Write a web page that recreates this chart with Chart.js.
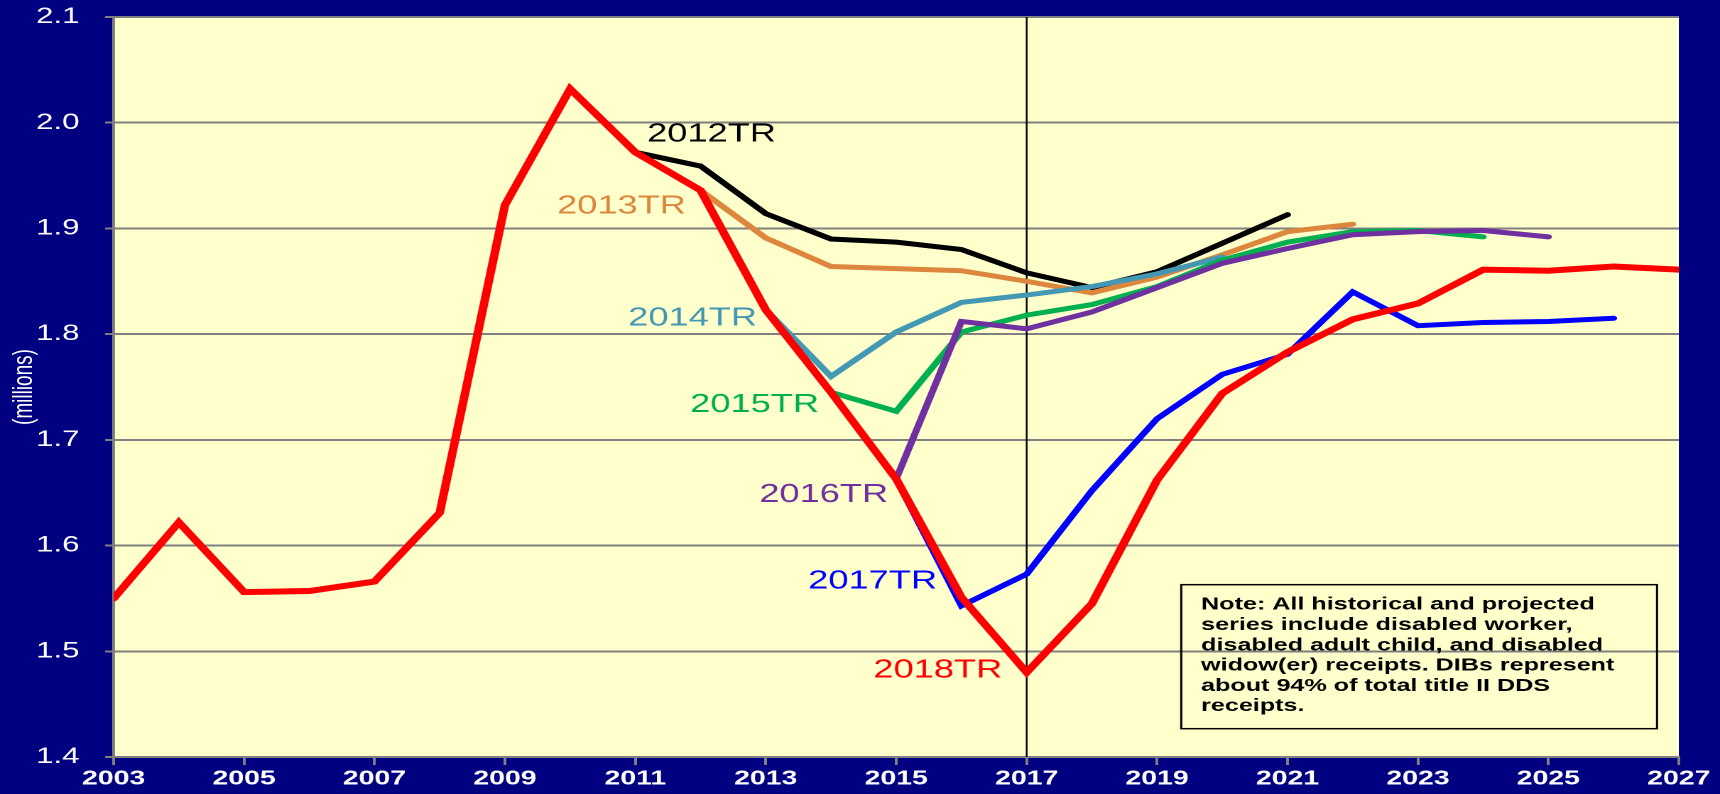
<!DOCTYPE html>
<html>
<head>
<meta charset="utf-8">
<script src="https://cdn.jsdelivr.net/npm/chart.js@4.4.1/dist/chart.umd.min.js"></script>
<style>
    html, body { margin: 0; padding: 0; background: #000080; overflow: hidden; }
    #wrap { position: absolute; left: 0; top: 0; height: 794px; transform-origin: 0 0; }
</style>
</head>
<body>
<div id="wrap"><canvas id="ddsChart"></canvas></div>
<script>
const years = [2003, 2004, 2005, 2006, 2007, 2008, 2009, 2010, 2011, 2012, 2013, 2014, 2015,
    2016, 2017, 2018, 2019, 2020, 2021, 2022, 2023, 2024, 2025, 2026, 2027];
const xTickYears = [2003, 2005, 2007, 2009, 2011, 2013, 2015, 2017, 2019, 2021, 2023, 2025, 2027];

// DIB receipts, millions, one value per year (null = not in that report)
const tr2018 = [1.550, 1.622, 1.556, 1.557, 1.566, 1.631, 1.922, 2.032, 1.972, 1.936, 1.823, 1.745, 1.663,
    1.551, 1.480, 1.545, 1.662, 1.744, 1.783, 1.814, 1.829, 1.861, 1.860, 1.864, 1.861];
const tr2017 = [null, null, null, null, null, null, null, null, null, null, null, null, 1.663,
    1.543, 1.573, 1.652, 1.720, 1.762, 1.781, 1.840, 1.808, 1.811, 1.812, 1.815, null];
const tr2016 = [null, null, null, null, null, null, null, null, null, null, null, null, 1.663,
    1.812, 1.805, 1.821, 1.844, 1.867, 1.881, 1.894, 1.897, 1.898, 1.892, null, null];
const tr2015 = [null, null, null, null, null, null, null, null, null, null, null, 1.745, 1.727,
    1.802, 1.818, 1.828, 1.845, 1.870, 1.887, 1.897, 1.898, 1.892, null, null, null];
const tr2014 = [null, null, null, null, null, null, null, null, null, null, 1.823, 1.760, 1.802,
    1.830, 1.837, 1.845, 1.857, 1.873, null, null, null, null, null, null, null];
const tr2013 = [null, null, null, null, null, null, null, null, null, 1.936, 1.891, 1.864, 1.862,
    1.860, 1.850, 1.839, 1.854, 1.875, 1.897, 1.904, null, null, null, null, null];
const tr2012 = [null, null, null, null, null, null, null, null, 1.972, 1.959, 1.914, 1.890, 1.887,
    1.880, 1.858, 1.844, 1.859, 1.886, 1.913, null, null, null, null, null, null];

const seriesNames = ['2018TR', '2017TR', '2016TR', '2015TR', '2014TR', '2013TR', '2012TR'];
const seriesValues = [tr2018, tr2017, tr2016, tr2015, tr2014, tr2013, tr2012];
const seriesColors = ['#ff0000', '#0000ff', '#7030a0', '#00b050', '#4398b4', '#dc873d', '#000000'];

const noteLines = [
    'Note: All historical and projected',
    'series include disabled worker,',
    'disabled adult child, and disabled',
    'widow(er) receipts. DIBs represent',
    'about 94% of total title II DDS',
    'receipts.'
];

// the source picture is stretched sideways; draw narrow and widen the whole canvas
const STRETCH = 1.42;
const chartWidth = Math.round(1720 / STRETCH);
const wrap = document.getElementById('wrap');
wrap.style.width = chartWidth + 'px';
wrap.style.transform = `scaleX(${1720 / chartWidth})`;

const FONT = 'Liberation Sans, Arial, sans-serif';

// where each report label sits, in data units (left edge, vertical middle)
const labelSpots = {
    '2012TR': [2011.18, 1.989],
    '2013TR': [2009.80, 1.921],
    '2014TR': [2010.89, 1.815],
    '2015TR': [2011.84, 1.733],
    '2016TR': [2012.90, 1.648],
    '2017TR': [2013.65, 1.566],
    '2018TR': [2014.65, 1.482]
};

const backgroundPlugin = {
    id: 'backgrounds',
    beforeDraw(chart) {
        const { ctx, chartArea: a } = chart;
        ctx.save();
        ctx.fillStyle = '#000080';
        ctx.fillRect(0, 0, chart.width, chart.height);
        ctx.fillStyle = '#ffffcc';
        ctx.fillRect(a.left, a.top, a.right - a.left, a.bottom - a.top);
        ctx.restore();
    },
    beforeDatasetsDraw(chart) {
        const { ctx, chartArea: a, scales } = chart;
        const x = scales.x.getPixelForValue(2017);
        ctx.save();
        ctx.strokeStyle = '#000000';
        ctx.lineWidth = 1.2;
        ctx.beginPath();
        ctx.moveTo(x, a.top);
        ctx.lineTo(x, a.bottom);
        ctx.stroke();
        ctx.restore();
    }
};

const annotationPlugin = {
    id: 'annotations',
    afterDatasetsDraw(chart) {
        const { ctx, scales } = chart;
        ctx.save();
        ctx.font = `25.5px ${FONT}`;
        ctx.textAlign = 'left';
        ctx.textBaseline = 'middle';
        seriesNames.forEach((name, i) => {
            const spot = labelSpots[name];
            ctx.fillStyle = seriesColors[i];
            ctx.fillText(name, scales.x.getPixelForValue(spot[0]), scales.y.getPixelForValue(spot[1]));
        });

        // note box
        const bx = scales.x.getPixelForValue(2019.37);
        const by = scales.y.getPixelForValue(1.563);
        ctx.strokeStyle = '#000000';
        ctx.lineWidth = 1.5;
        ctx.strokeRect(bx, by, 335, 144);
        ctx.fillStyle = '#000000';
        ctx.font = `bold 17.7px ${FONT}`;
        ctx.textBaseline = 'alphabetic';
        noteLines.forEach((line, i) => {
            ctx.fillText(line, bx + 14, by + 25 + i * 20.3);
        });
        ctx.restore();
    }
};

const datasets = seriesNames.map((name, i) => ({
    label: name,
    data: years.map((yr, j) => ({ x: yr, y: seriesValues[i][j] })),
    borderColor: seriesColors[i],
    borderWidth: i === 0 ? 6 : 5,
    pointRadius: 0,
    tension: 0,
    fill: false,
    borderCapStyle: 'round',
    order: i
}));

new Chart(document.getElementById('ddsChart'), {
    type: 'line',
    data: { datasets: datasets },
    options: {
        responsive: true,
        maintainAspectRatio: false,
        animation: false,
        devicePixelRatio: 2,
        layout: { padding: { top: 17, right: 29, left: 0, bottom: 0 } },
        plugins: {
            legend: { display: false },
            tooltip: { enabled: false }
        },
        scales: {
            x: {
                type: 'linear',
                min: 2003,
                max: 2027,
                afterBuildTicks: axis => { axis.ticks = xTickYears.map(v => ({ value: v })); },
                afterFit: axis => {
                    axis.height = 37;
                    axis.paddingLeft = 0;
                    axis.paddingRight = 0;
                },
                grid: { drawOnChartArea: false, drawTicks: true, tickLength: 8, color: '#808080', lineWidth: 2 },
                border: { display: true, color: '#808080', width: 2 },
                ticks: {
                    color: '#ffffff',
                    font: { family: FONT, size: 20, weight: 'bold' },
                    padding: 2,
                    maxRotation: 0,
                    autoSkip: false,
                    callback: v => String(v)
                }
            },
            y: {
                min: 1.4,
                max: 2.1,
                afterFit: axis => {
                    axis.width = 80;
                    axis.paddingTop = 0;
                    axis.paddingBottom = 0;
                },
                grid: { color: '#808080', lineWidth: 2, drawTicks: true, tickLength: 6 },
                border: { display: true, color: '#808080', width: 2 },
                ticks: {
                    stepSize: 0.1,
                    color: '#ffffff',
                    font: { family: FONT, size: 22 },
                    padding: 18,
                    callback: v => v.toFixed(1)
                },
                title: {
                    display: true,
                    text: '(millions)',
                    color: '#ffffff',
                    font: { family: FONT, size: 19 },
                    padding: { top: 6, bottom: 0 }
                }
            }
        }
    },
    plugins: [backgroundPlugin, annotationPlugin]
});
</script>
</body>
</html>
